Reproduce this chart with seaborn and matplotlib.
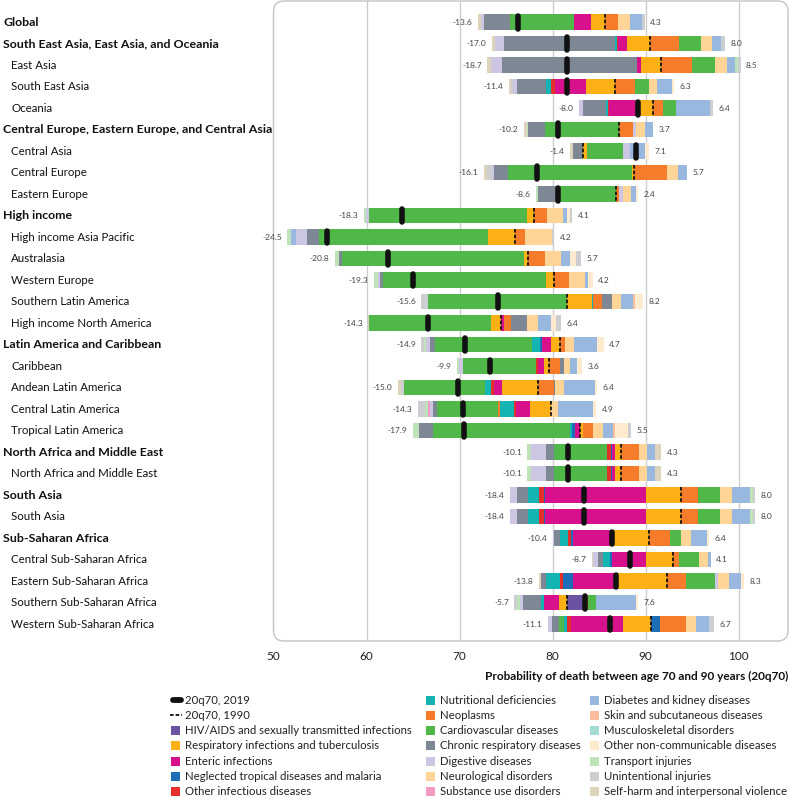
import numpy as np
import matplotlib
matplotlib.use("Agg")
import matplotlib.pyplot as plt
import seaborn as sns
from matplotlib.patches import FancyBboxPatch, Rectangle
from matplotlib.lines import Line2D
from matplotlib.transforms import blended_transform_factory

# ---------------- data ----------------
regions = ["Global", "South East Asia, East Asia, and Oceania", "East Asia", "South East Asia", "Oceania",
           "Central Europe, Eastern Europe, and Central Asia", "Central Asia", "Central Europe", "Eastern Europe",
           "High income", "High income Asia Pacific", "Australasia", "Western Europe", "Southern Latin America",
           "High income North America", "Latin America and Caribbean", "Caribbean", "Andean Latin America",
           "Central Latin America", "Tropical Latin America", "North Africa and Middle East",
           "North Africa and Middle East", "South Asia", "South Asia", "Sub-Saharan Africa",
           "Central Sub-Saharan Africa", "Eastern Sub-Saharan Africa", "Southern Sub-Saharan Africa",
           "Western Sub-Saharan Africa"]
is_header = [1, 1, 0, 0, 0, 1, 0, 0, 0, 1, 0, 0, 0, 0, 0, 1, 0, 0, 0, 0, 1, 0, 1, 0, 1, 0, 0, 0, 0]

q70_1990 = [85.6, 90.5, 91.7, 86.7, 90.8, 87.1, 83.3, 88.7, 86.8, 78.0, 76.0, 77.4, 80.1, 81.5, 74.5,
            80.8, 79.6, 78.4, 79.8, 82.9, 87.4, 87.4, 93.8, 93.8, 90.4, 92.9, 92.3, 81.6, 90.6]

causes = ["HIV/AIDS and sexually transmitted infections", "Respiratory infections and tuberculosis",
          "Enteric infections", "Neglected tropical diseases and malaria", "Other infectious diseases",
          "Nutritional deficiencies", "Neoplasms", "Cardiovascular diseases", "Chronic respiratory diseases",
          "Digestive diseases", "Neurological disorders", "Substance use disorders",
          "Diabetes and kidney diseases", "Skin and subcutaneous diseases", "Musculoskeletal disorders",
          "Other non-communicable diseases", "Transport injuries", "Unintentional injuries",
          "Self-harm and interpersonal violence"]
cause_colors = ["#6B52A3", "#FBB016", "#D6118B", "#1C6EB7", "#E52F2B", "#14B4B2", "#F47C2A", "#4FB848",
                "#7E8895", "#CCC6E3", "#FED597", "#F59AC2", "#99B8E0", "#F9BC9C", "#A4DCD4", "#FEEBCD",
                "#BFE3B8", "#CDCED2", "#DDD4BB"]

# change in 20q70 (1990 -> 2019) attributable to each cause, one value per row
hiv = [0, 0, 0, 0, 0, 0, 0, 0, 0, 0, 0, 0, 0, 0, 0, 0, 0, 0, 0, 0, 0, 0, 0, 0, 0, 0, 0, 1.95, 0]
resp = [-1.45, -2.5, -2.25, -3.1, -1.75, 0, 0.35, -0.2, 0, -0.7, -2.9, -0.45, -0.8, 2.7, -1.1, -1.0, -0.55,
        -3.85, -2.2, 0.4, -0.7, -0.7, -3.8, -3.8, -3.75, -2.9, -5.5, -0.95, -3.0]
enteric = [-1.8, -1.0, -0.35, -3.3, -3.0, 0, 0, 0, 0, -0.1, 0, 0, 0, 0, 0.3, -0.9, -0.6, -0.9, -1.55, -0.5,
           -0.3, -0.3, -10.85, -10.85, -4.5, -3.6, -4.6, -1.6, -5.6]
ntd = [0, 0, 0, 0, 0, 0, 0, 0, 0, 0, 0, 0, 0, 0, 0, -0.25, 0, 0, 0, -0.35, -0.15, -0.15, -0.1, -0.1, -0.2,
       -0.2, -1.05, 0, 0.9]
other_inf = [0, -0.1, 0, -0.45, -0.1, 0, 0, 0, 0, 0, 0, 0, 0, 0, 0, 0, -0.2, -0.25, -0.15, 0, -0.45, -0.45,
             -0.55, -0.55, -0.35, 0, -0.35, 0, -0.45]
nutritional = [-0.1, -0.2, 0, -0.6, -0.2, 0, 0, 0, 0, 0, 0, 0, 0, 0.15, 0, -0.9, 0, -0.7, -1.6, -0.2, 0, 0,
               -1.15, -1.15, -0.8, -0.8, -1.5, -0.25, -0.3]
neoplasms = [1.4, 3.1, 3.3, 2.2, 1.1, 1.55, 0, 3.6, 0.35, 1.35, 1.0, 1.75, 1.7, 1.0, 0.7, 0.5, 1.15, 1.75,
             -0.2, 1.0, 1.9, 1.9, 1.8, 1.8, 2.25, 0.7, 2.05, 0.3, 2.8]
cardio = [-6.8, 2.3, 2.5, 1.5, 1.4, -7.95, 3.9, -13.3, -6.1, -16.95, -18.25, -19.6, -17.5, -14.9, -13.1,
          -10.4, -7.85, -8.65, -6.5, -14.7, -5.6, -5.6, 2.35, 2.35, 1.2, 2.1, 3.1, 0.85, -0.55]
chronic_resp = [-2.8, -11.9, -14.55, -3.1, -2.5, -1.8, -1.15, -1.45, -2.3, 0, -1.3, -0.3, -0.3, 1.0, 1.8,
                -0.55, 0.45, 0.1, -0.45, -1.55, -0.95, -0.95, -1.2, -1.2, -0.65, -0.5, -0.55, -1.95, -0.75]
digestive = [-0.4, -1.0, -1.2, -0.45, -0.45, 0.3, 0.8, -0.3, 0.45, -0.3, -1.15, 0, -0.3, 0, 0, -0.45, -0.5,
             0, -0.3, 0, -1.55, -1.55, -0.75, -0.75, -0.15, -0.6, 0.3, -0.35, -0.45]
neuro = [1.3, 1.2, 1.2, 0.85, 0, 0.95, 0, 1.2, 0.8, 1.75, 2.9, 1.8, 1.65, 1.0, 1.15, 1.0, 0.65, 0.95, 0.8,
         1.1, 0.85, 0.85, 1.35, 1.35, 1.0, 0.95, 1.25, 0, 1.1]
substance = [0, 0, 0, 0, 0, 0, 0, 0, 0, 0, 0, 0, 0, 0, 0, 0, 0, 0, -0.25, 0, 0, 0, 0, 0, 0, 0, 0, 0, 0]
diabetes = [1.3, 1.05, 0.9, 1.55, 3.6, 0.9, 1.6, 0.9, 0.6, 0.5, -0.55, 0.9, 0.4, 1.25, 1.35, 2.45, 0.8,
            3.35, 3.7, 1.1, 0.9, 0.9, 1.95, 1.95, 1.7, 0.35, 1.3, 4.3, 1.45]
skin = [0, 0, 0, 0, 0, 0, 0, 0, 0, 0, 0, 0, 0, 0.3, 0, 0, 0, 0, 0, 0.2, 0, 0, 0, 0, 0, 0, 0, 0, 0]
musculo = [0, 0, 0, 0, 0, 0, 0, 0, 0, 0, 0, 0, 0, 0, 0, 0, 0, 0, 0, 0, 0, 0, 0, 0, 0, 0, 0, 0, 0]
other_ncd = [0, 0, 0, 0.2, 0, 0, 0.45, 0, 0.2, 0.3, 0, 0.65, 0.45, 0.8, 0.55, 0.75, 0.55, 0.25, 0.4, 1.4,
             0, 0, 0, 0, 0.25, 0, 0.3, 0.2, 0]
transport = [0, 0, 0.3, 0, 0, -0.15, 0, 0, -0.2, -0.25, -0.35, -0.45, -0.4, 0, 0, -0.2, -0.2, 0, -0.3, -0.6,
             -0.4, -0.4, 0.25, 0.25, 0, 0, 0, -0.3, 0]
unintentional = [0.3, 0.35, 0.3, -0.2, 0.3, 0, 0, -0.55, 0, 0.2, 0.3, 0.6, 0, -0.7, 0.55, -0.25, 0, -0.3,
                 -0.8, 0.3, 0, 0, 0.3, 0.3, 0, 0, 0, -0.3, 0.45]
self_harm = [-0.25, -0.3, -0.35, -0.2, 0, -0.3, -0.25, -0.3, 0, 0, 0, 0, 0, 0, -0.1, 0, 0, -0.35, 0, 0,
             0.65, 0.65, 0, 0, 0, -0.1, -0.25, 0, 0]

cause_values = [hiv, resp, enteric, ntd, other_inf, nutritional, neoplasms, cardio, chronic_resp, digestive,
                neuro, substance, diabetes, skin, musculo, other_ncd, transport, unintentional, self_harm]

x_ticks = [50, 60, 70, 80, 90, 100]

# ---------------- style ----------------
sns.set_theme(style="white")
plt.rcParams['font.family'] = ['Lato', 'DejaVu Sans']

W, H = 790, 799
fig = plt.figure(figsize=(W / 100, H / 100), dpi=100)
ax_l, ax_r, ax_t, ax_b = 273.5, 788, 1, 641
ax = fig.add_axes([ax_l / W, 1 - ax_b / H, (ax_r - ax_l) / W, (ax_b - ax_t) / H])
ax.set_facecolor("white")
sns.despine(ax=ax, left=True, bottom=True, top=True, right=True)

n = len(regions)
ax.set_xlim(50, 105.3)
ax.set_ylim(n - 1 + 0.79, -0.98)

for g in x_ticks[1:]:
    ax.axvline(g, color="#CDCDCD", lw=1.0, zorder=0)

# rounded frame
frame = FancyBboxPatch((0, 0), 1, 1, boxstyle="round,pad=0,rounding_size=0.02",
                       mutation_aspect=(ax_r - ax_l) / (ax_b - ax_t),
                       transform=ax.transAxes, facecolor="none", edgecolor="#C4C4C4", lw=1.0,
                       clip_on=False, zorder=0.5)
ax.add_patch(frame)

bar_h = 0.72
for i in range(n):
    base = q70_1990[i]
    lc, rc = base, base
    for c, vals in enumerate(cause_values):
        d = vals[i]
        if d < 0:
            ax.barh(i, d, left=lc, height=bar_h, color=cause_colors[c], edgecolor="none", zorder=2)
            lc += d
        elif d > 0:
            ax.barh(i, d, left=rc, height=bar_h, color=cause_colors[c], edgecolor="none", zorder=2)
            rc += d
    neg_total = sum(v[i] for v in cause_values if v[i] < 0)
    pos_total = sum(v[i] for v in cause_values if v[i] > 0)
    ax.annotate(f"{round(neg_total - 1e-9, 1):.1f}", (lc, i), xytext=(-4, 0), textcoords="offset points",
                ha="right", va="center", fontsize=6, color="#444444")
    ax.annotate(f"{round(pos_total + 1e-9, 1):.1f}", (rc, i), xytext=(4, 0), textcoords="offset points",
                ha="left", va="center", fontsize=6, color="#444444")
    v2019 = base + neg_total + pos_total
    ax.plot([base, base], [i - 0.36, i + 0.36], color="#111111", lw=1.3, dashes=(2.0, 1.1), zorder=4)
    ax.plot([v2019, v2019], [i - 0.3, i + 0.3], color="#111111", lw=4.0, solid_capstyle="round", zorder=5)

# row labels
tr = blended_transform_factory(fig.transFigure, ax.transData)
for i, lab in enumerate(regions):
    if is_header[i]:
        ax.text(3 / W, i, lab, transform=tr, ha="left", va="center", fontsize=8.9, fontweight="bold",
                color="#111111")
    else:
        ax.text(11 / W, i, lab, transform=tr, ha="left", va="center", fontsize=8.3, color="#111111")

ax.set_yticks([])
ax.set_xticks(x_ticks)
ax.set_xticklabels([str(t) for t in x_ticks], fontsize=8.5, color="#222222")
ax.tick_params(axis="x", length=0, pad=7)

fig.text(788 / W, 1 - 676 / H, "Probability of death between age 70 and 90 years (20q70)", ha="right",
         va="center", fontsize=8.5, fontweight="bold", color="#111111")

# legend (three columns)
entries = [("line2019", "20q70, 2019"), ("line1990", "20q70, 1990")] + \
          [(cause_colors[k], causes[k]) for k in range(len(causes))]
col_x = [171, 426, 590]
row_y0, row_dy = 700, 15.3
for k, (kind, lab) in enumerate(entries):
    col, row = divmod(k, 7)
    x0 = col_x[col]
    y = row_y0 + row * row_dy
    fy = 1 - y / H
    if kind == "line2019":
        fig.add_artist(Line2D([(x0 + 2) / W, (x0 + 10) / W], [fy, fy], color="#111111", lw=4.2,
                              solid_capstyle="round", transform=fig.transFigure))
    elif kind == "line1990":
        fig.add_artist(Line2D([(x0 - 1) / W, (x0 + 11) / W], [fy, fy], color="#111111", lw=1.3,
                              dashes=(2.0, 1.1), transform=fig.transFigure))
    else:
        fig.add_artist(Rectangle((x0 / W, fy - 4.5 / H), 9 / W, 9 / H, facecolor=kind,
                                 edgecolor="none", transform=fig.transFigure))
    fig.text((x0 + 14) / W, fy, lab, ha="left", va="center", fontsize=8.2, color="#222222")

fig.savefig("out.png", dpi=100, facecolor="white")
